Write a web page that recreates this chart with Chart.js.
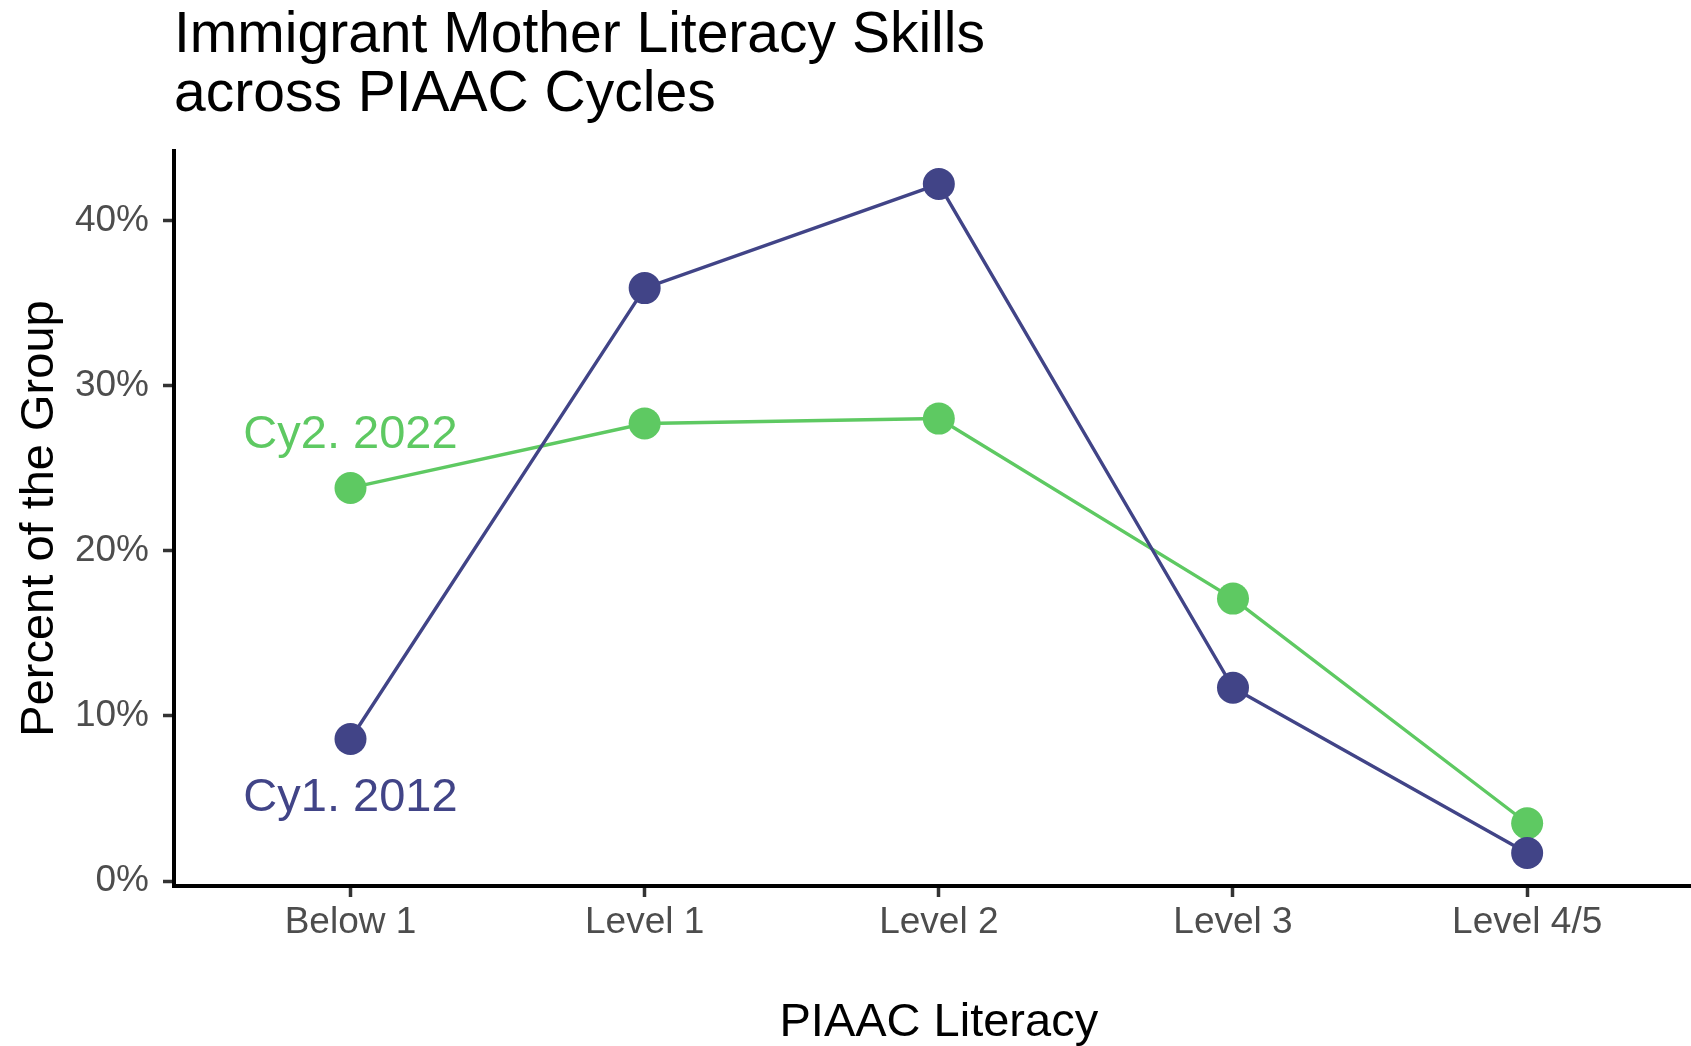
<!DOCTYPE html>
<html><head><meta charset="utf-8">
<script src="https://cdn.jsdelivr.net/npm/chart.js@4/dist/chart.umd.min.js"></script>
<style>html,body{margin:0;padding:0;overflow:hidden;background:#fff}canvas{display:block}</style>
</head><body>
<canvas id="c" width="1691" height="1046"></canvas>
<script>
// ---- data ----
const categories = ['Below 1', 'Level 1', 'Level 2', 'Level 3', 'Level 4/5'];
const cy1_2012 = [8.6, 35.9, 42.2, 11.7, 1.7];
const cy2_2022 = [23.8, 27.7, 28.0, 17.1, 3.5];
const yTickValues = [0, 10, 20, 30, 40];
const seriesNames = ['Cy1. 2012', 'Cy2. 2022'];
const seriesColors = ['#414487', '#5EC962'];
const labelAnchorY = [5.0, 27.0]; // direct-label positions (percent) at first category
const xAxisTitle = 'PIAAC Literacy';

const FONT = '"Liberation Sans", Arial, Helvetica, sans-serif';

const seriesLabels = {
  id: 'seriesLabels',
  afterDatasetsDraw(chart) {
    const {ctx, scales: {x, y}} = chart;
    ctx.save();
    ctx.font = '47px ' + FONT;
    ctx.textAlign = 'center';
    ctx.textBaseline = 'middle';
    chart.data.datasets.forEach((ds, i) => {
      ctx.fillStyle = ds.borderColor;
      ctx.fillText(ds.label, x.getPixelForValue(0), y.getPixelForValue(labelAnchorY[i]));
    });
    // x-axis title centred on the (symmetric) panel, i.e. on the middle category
    ctx.fillStyle = '#000000';
    ctx.fillText(xAxisTitle, x.getPixelForValue((categories.length - 1) / 2), chart.height - 23);
    ctx.restore();
  }
};

const toPoints = arr => arr.map((v, i) => ({x: i, y: v}));

new Chart(document.getElementById('c'), {
  type: 'line',
  data: {
    datasets: [
      {label: seriesNames[0], data: toPoints(cy1_2012), borderColor: seriesColors[0], backgroundColor: seriesColors[0],
       pointBackgroundColor: seriesColors[0], borderWidth: 3.4, pointRadius: 16, pointHoverRadius: 16, pointBorderWidth: 0, tension: 0},
      {label: seriesNames[1], data: toPoints(cy2_2022), borderColor: seriesColors[1], backgroundColor: seriesColors[1],
       pointBackgroundColor: seriesColors[1], borderWidth: 3.4, pointRadius: 16, pointHoverRadius: 16, pointBorderWidth: 0, tension: 0}
    ]
  },
  options: {
    responsive: false,
    animation: false,
    devicePixelRatio: 1,
    layout: {padding: 0, autoPadding: false},
    plugins: {
      legend: {display: false},
      tooltip: {enabled: false},
      title: {
        display: true,
        text: ['Immigrant Mother Literacy Skills', 'across PIAAC Cycles'],
        align: 'start',
        fullSize: false,
        color: '#000000',
        font: {family: FONT, size: 57, weight: 'normal', lineHeight: 59 / 57},
        padding: {top: 6.5, bottom: 26.5}
      }
    },
    scales: {
      x: {
        type: 'linear',
        min: -0.6,
        max: 4.557,
        afterBuildTicks: s => { s.ticks = categories.map((c, i) => ({value: i})); },
        afterFit: s => { s.height = 160; },
        ticks: {
          callback: v => categories[v],
          color: '#4D4D4D',
          font: {family: FONT, size: 37, lineHeight: 1},
          padding: 7.5,
          maxRotation: 0,
          autoSkip: false
        },
        grid: {drawOnChartArea: false, tickLength: 11, tickColor: '#333333', tickWidth: 3.5},
        border: {color: '#000000', width: 4},
        title: {display: false}
      },
      y: {
        type: 'linear',
        min: -0.3,
        max: 44.2,
        afterBuildTicks: s => { s.ticks = yTickValues.map(v => ({value: v})); },
        afterFit: s => { s.width = 174; },
        ticks: {
          callback: v => v + '%',
          color: '#4D4D4D',
          font: {family: FONT, size: 37, lineHeight: 1},
          padding: 14
        },
        grid: {drawOnChartArea: false, tickLength: 11, tickColor: '#333333', tickWidth: 3.5},
        border: {color: '#000000', width: 4},
        title: {display: true, text: 'Percent of the Group', color: '#000000',
                font: {family: FONT, size: 47, lineHeight: 1}, padding: {top: 17, bottom: 0}}
      }
    }
  },
  plugins: [seriesLabels]
});
</script>
</body></html>
